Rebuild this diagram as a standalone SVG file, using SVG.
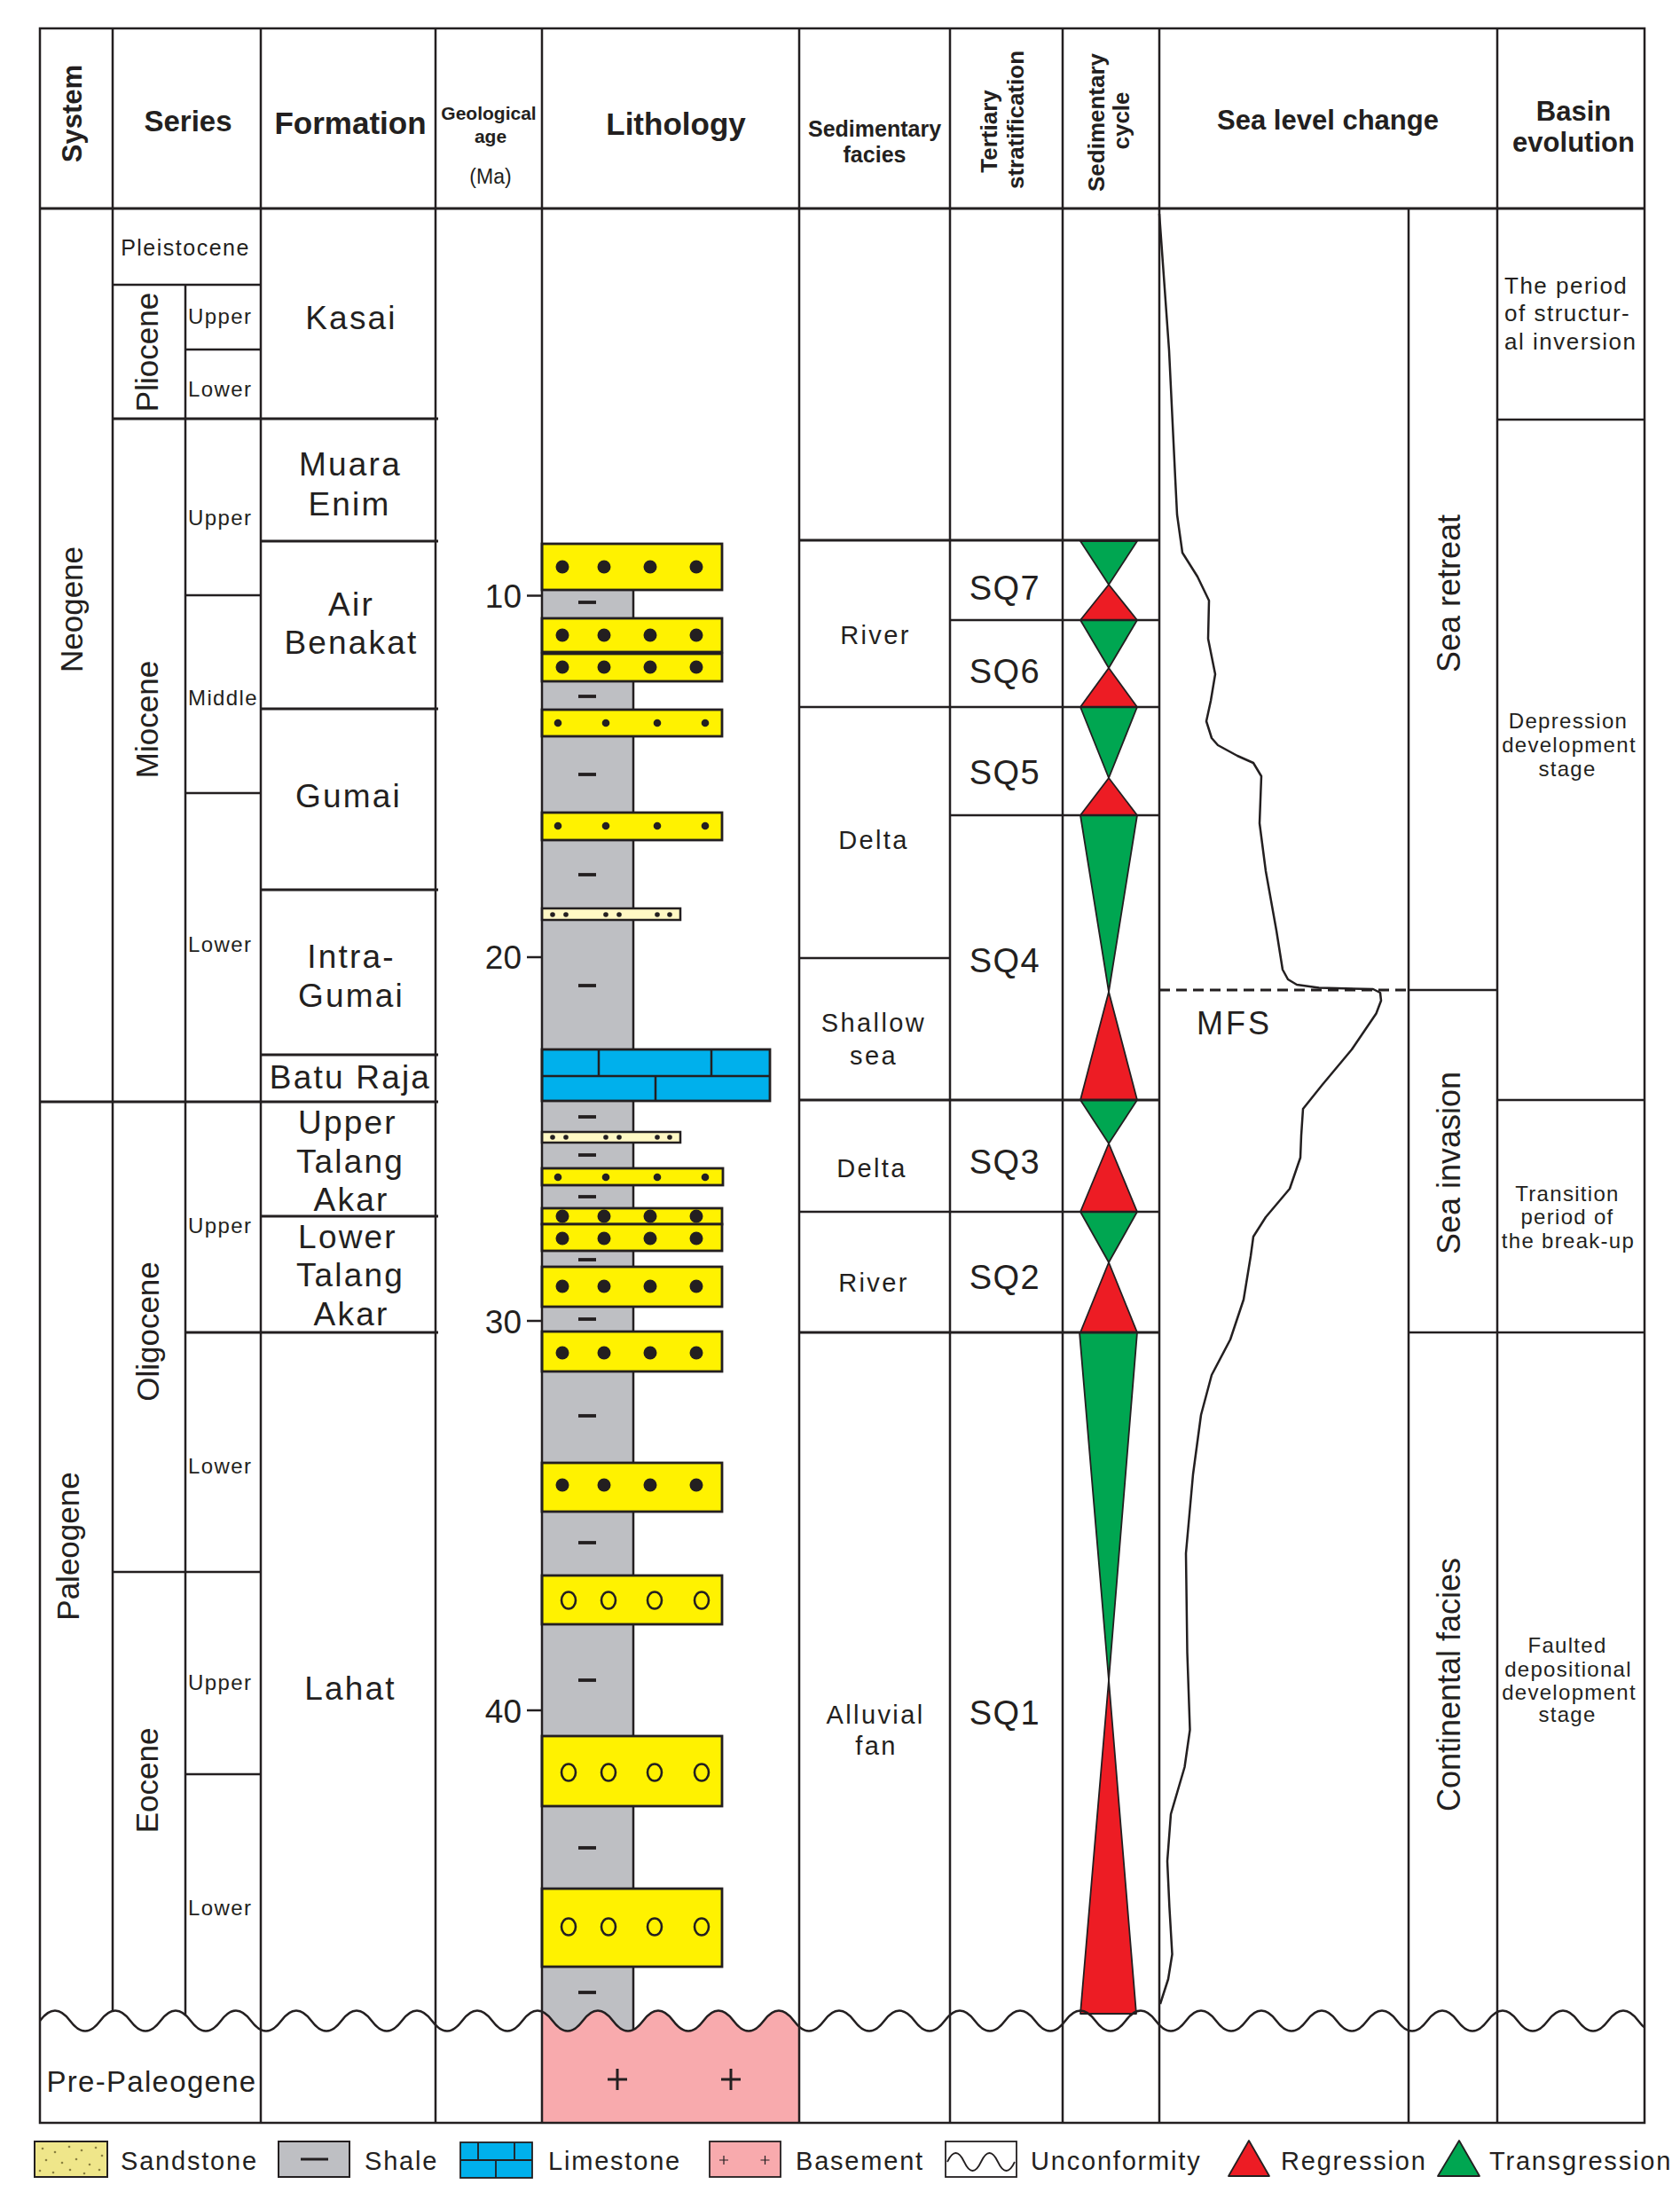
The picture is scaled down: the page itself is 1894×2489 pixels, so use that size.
<svg xmlns="http://www.w3.org/2000/svg" xmlns:xlink="http://www.w3.org/1999/xlink" width="1894" height="2489" viewBox="0 0 1894 2489">
<style>
.ln{stroke:#231f20;stroke-width:2.5;fill:none}
.tk{stroke-width:3.2}
.t{font-family:"Liberation Sans",Arial,Helvetica,sans-serif;fill:#231f20}
.b{font-weight:bold}
.m{text-anchor:middle}
.e{text-anchor:end}
.fm{font-size:37px;letter-spacing:2.2px}
.ss{font-size:24px;letter-spacing:1.4px}
.rs{font-size:35px}
.fa{font-size:29px;letter-spacing:2.4px}
.sq{font-size:38px;letter-spacing:1.5px}
.bv{font-size:24px;letter-spacing:1.3px}
.lg{font-size:29px;letter-spacing:1.8px}
.sand{fill:#fff200;stroke:#231f20;stroke-width:2.8}
.pale{fill:#fff8c4;stroke:#231f20;stroke-width:2.5}
.dk{fill:#231f20}
.oc{fill:none;stroke:#231f20;stroke-width:2.6}
.dash{stroke:#231f20;stroke-width:3.8}
.gr{fill:#00a651;stroke:#231f20;stroke-width:1.8;stroke-linejoin:round}
.rd{fill:#ed1c24;stroke:#231f20;stroke-width:1.8;stroke-linejoin:round}
</style>
<defs>
<g id="bigdots" class="dk"><circle cx="634" cy="0" r="7.5"/><circle cx="681" cy="0" r="7.5"/><circle cx="733" cy="0" r="7.5"/><circle cx="785" cy="0" r="7.5"/></g>
<g id="smalldots" class="dk"><circle cx="629" cy="0" r="4.3"/><circle cx="683" cy="0" r="4.3"/><circle cx="741" cy="0" r="4.3"/><circle cx="795" cy="0" r="4.3"/></g>
<g id="opencirc" class="oc"><ellipse cx="641" cy="0" rx="8" ry="9.5"/><ellipse cx="686" cy="0" rx="8" ry="9.5"/><ellipse cx="738" cy="0" rx="8" ry="9.5"/><ellipse cx="791" cy="0" rx="8" ry="9.5"/></g>
<g id="paledots" class="dk"><circle cx="623" cy="0" r="2.8"/><circle cx="638" cy="0" r="2.8"/><circle cx="683" cy="0" r="2.8"/><circle cx="698" cy="0" r="2.8"/><circle cx="741" cy="0" r="2.8"/><circle cx="755" cy="0" r="2.8"/></g>
<path id="wave" d="M45,2278 q17,-23 34,0 t34,0 34,0 34,0 34,0 34,0 34,0 34,0 34,0 34,0 34,0 34,0 34,0 34,0 34,0 34,0 34,0 34,0 34,0 34,0 34,0 34,0 34,0 34,0 34,0 34,0 34,0 34,0 34,0 34,0 34,0 34,0 34,0 34,0 34,0 34,0 34,0 34,0 34,0 34,0 34,0 34,0 34,0 34,0 34,0 34,0 34,0 34,0 34,0 34,0 34,0 34,0 34,0 34,0"/>
<clipPath id="tableclip"><rect x="45" y="2200" width="1809" height="200"/></clipPath>
<clipPath id="below"><path d="M45,2278 q17,-23 34,0 t34,0 34,0 34,0 34,0 34,0 34,0 34,0 34,0 34,0 34,0 34,0 34,0 34,0 34,0 34,0 34,0 34,0 34,0 34,0 34,0 34,0 34,0 34,0 34,0 34,0 34,0 34,0 34,0 34,0 34,0 34,0 34,0 34,0 34,0 34,0 34,0 34,0 34,0 34,0 34,0 34,0 34,0 34,0 34,0 34,0 34,0 34,0 34,0 34,0 34,0 34,0 34,0 34,0 L1881,2400 L45,2400 Z"/></clipPath>
</defs>
<rect width="1894" height="2489" fill="#ffffff"/>

<g id="lithology">
<rect x="611" y="612" width="103" height="1685" fill="#bebfc3"/>
<line class="ln" x1="714" y1="612" x2="714" y2="2292"/>
<g class="dash">
<line x1="652" y1="679" x2="672" y2="679"/><line x1="652" y1="785" x2="672" y2="785"/><line x1="652" y1="873" x2="672" y2="873"/><line x1="652" y1="986" x2="672" y2="986"/><line x1="652" y1="1111" x2="672" y2="1111"/><line x1="652" y1="1259" x2="672" y2="1259"/><line x1="652" y1="1302" x2="672" y2="1302"/><line x1="652" y1="1349" x2="672" y2="1349"/><line x1="652" y1="1420" x2="672" y2="1420"/><line x1="652" y1="1487" x2="672" y2="1487"/><line x1="652" y1="1596" x2="672" y2="1596"/><line x1="652" y1="1739" x2="672" y2="1739"/><line x1="652" y1="1894" x2="672" y2="1894"/><line x1="652" y1="2083" x2="672" y2="2083"/><line x1="652" y1="2246" x2="672" y2="2246"/>
</g>
<rect class="sand" x="611" y="613" width="203" height="52"/><use xlink:href="#bigdots" y="639"/>
<rect class="sand" x="611" y="697" width="203" height="38"/><use xlink:href="#bigdots" y="716"/>
<rect class="sand" x="611" y="737" width="203" height="31"/><use xlink:href="#bigdots" y="752"/>
<rect class="sand" x="611" y="800" width="203" height="30"/><use xlink:href="#smalldots" y="815"/>
<rect class="sand" x="611" y="916" width="203" height="31"/><use xlink:href="#smalldots" y="931"/>
<rect class="pale" x="611" y="1024" width="156" height="13"/><use xlink:href="#paledots" y="1031"/>
<rect x="611" y="1183" width="257" height="58" fill="#00b0ec" stroke="#231f20" stroke-width="2.8"/>
<path class="ln" d="M611,1213 H868 M675,1183 V1213 M802,1183 V1213 M739,1213 V1241"/>
<rect class="pale" x="611" y="1276" width="156" height="12"/><use xlink:href="#paledots" y="1282"/>
<rect class="sand" x="611" y="1317" width="204" height="19"/><use xlink:href="#smalldots" y="1327"/>
<rect class="sand" x="611" y="1362" width="203" height="18"/><use xlink:href="#bigdots" y="1371"/>
<rect class="sand" x="611" y="1380" width="203" height="30"/><use xlink:href="#bigdots" y="1396"/>
<rect class="sand" x="611" y="1428" width="203" height="45"/><use xlink:href="#bigdots" y="1450"/>
<rect class="sand" x="611" y="1501" width="203" height="45"/><use xlink:href="#bigdots" y="1525"/>
<rect class="sand" x="611" y="1649" width="203" height="55"/><use xlink:href="#bigdots" y="1674"/>
<rect class="sand" x="611" y="1776" width="203" height="55"/><use xlink:href="#opencirc" y="1804"/>
<rect class="sand" x="611" y="1957" width="203" height="79"/><use xlink:href="#opencirc" y="1998"/>
<rect class="sand" x="611" y="2129" width="203" height="88"/><use xlink:href="#opencirc" y="2172"/>
<g clip-path="url(#below)">
<rect x="611" y="2240" width="290" height="153" fill="#f8aaad"/>
</g>
<path d="M685,2344 h22 M696,2332 v24 M813,2344 h22 M824,2332 v24" stroke="#231f20" stroke-width="3" fill="none"/>
</g>

<g id="cycles">
<polygon class="gr" points="1218,610 1282,610 1250,659"/><polygon class="rd" points="1250,659 1218,699 1282,699"/>
<polygon class="gr" points="1218,699 1282,699 1250,753"/><polygon class="rd" points="1250,753 1218,797 1282,797"/>
<polygon class="gr" points="1218,797 1282,797 1250,877"/><polygon class="rd" points="1250,877 1218,919 1282,919"/>
<polygon class="gr" points="1218,919 1282,919 1250,1118"/><polygon class="rd" points="1250,1118 1218,1240 1282,1240"/>
<polygon class="gr" points="1218,1240 1282,1240 1250,1289"/><polygon class="rd" points="1250,1289 1218,1366 1282,1366"/>
<polygon class="gr" points="1218,1366 1282,1366 1250,1423"/><polygon class="rd" points="1250,1423 1218,1502 1282,1502"/>
<polygon class="gr" points="1217,1502 1282,1502 1250,1894"/><polygon class="rd" points="1250,1894 1218,2270 1281,2270"/>
</g>

<g id="connectors">
<rect class="ln" x="45" y="32" width="1809" height="2361" stroke-width="3.6"/>
<line class="ln tk" x1="45" y1="235" x2="1854" y2="235"/>
<path class="ln" d="M127,32 V2267 M209,321 V2272 M294,32 V2393 M491,32 V2393 M611,32 V2393 M901,32 V2393 M1071,32 V2393 M1198,32 V2393 M1307,32 V2393 M1588,235 V2393 M1688,32 V2393"/>
<path class="ln" d="M127,321 H294 M209,394 H294 M209,671 H294 M209,894 H294 M127,1772 H294 M209,2000 H294 M1071,699 H1307 M1071,919 H1307 M901,1080 H1071 M901,797 H1307 M901,1366 H1307 M1588,1116 H1688 M1688,473 H1854 M1688,1240 H1854 M1588,1502 H1854"/>
<path class="ln tk" d="M127,472 H494 M294,610 H494 M294,799 H494 M294,1003 H494 M294,1189 H494 M45,1242 H494 M294,1371 H494 M209,1502 H494 M901,609 H1307 M901,1240 H1307 M901,1502 H1307"/>
<line x1="1307" y1="1116" x2="1588" y2="1116" stroke="#231f20" stroke-width="3" stroke-dasharray="12,7"/>
<path class="ln" d="M594,671.5 H611 M594,1079 H611 M594,1489 H611 M594,1928 H611"/>
<path class="ln" stroke-width="2.2" stroke-linejoin="round" d="M1307,241 L1318,395 L1325,540 L1327,580 L1333,623 L1350,650 L1363,677 L1362,720 L1370,760 L1365,790 L1360,813 L1366,832 L1373,840 L1395,852 L1413,860 L1422,875 L1420,928 L1427,982 L1439,1049 L1446,1093 L1452,1104 L1462,1110 L1487,1113.5 L1548,1115 L1556,1119 L1557,1128 L1551.5,1142.5 L1524,1183 L1490.6,1223 L1469,1250 L1467,1280 L1466,1305 L1454,1340 L1427,1372 L1413,1394 L1410,1416 L1402,1465 L1387,1510 L1366,1550 L1354,1595 L1345,1662 L1337,1751 L1338.5,1863 L1341.5,1950 L1335.5,1992 L1320,2045 L1316,2098 L1318.4,2150 L1321.5,2203 L1317,2231 L1308,2259"/>
<use xlink:href="#wave" class="ln" stroke-width="3.2" clip-path="url(#tableclip)"/>
</g>

<g id="header">
<text class="t b m" font-size="31" transform="translate(92,128) rotate(-90)">System</text>
<text class="t b m" x="212" y="148" font-size="33">Series</text>
<text class="t b m" x="395" y="151" font-size="35">Formation</text>
<text class="t b m" x="551" y="135" font-size="21">Geological</text>
<text class="t b m" x="553" y="161" font-size="21">age</text>
<text class="t m" x="553" y="207" font-size="23">(Ma)</text>
<text class="t b m" x="762" y="152" font-size="35">Lithology</text>
<text class="t b m" x="986" y="154" font-size="25">Sedimentary</text>
<text class="t b m" x="986" y="183" font-size="25">facies</text>
<text class="t b m" font-size="26" transform="translate(1124,148) rotate(-90)">Tertiary</text>
<text class="t b m" font-size="26" transform="translate(1154,135) rotate(-90)">stratification</text>
<text class="t b m" font-size="26" transform="translate(1245,138) rotate(-90)">Sedimentary</text>
<text class="t b m" font-size="26" transform="translate(1273,136) rotate(-90)">cycle</text>
<text class="t b m" x="1497" y="146" font-size="31">Sea level change</text>
<text class="t b m" x="1774" y="136" font-size="31">Basin</text>
<text class="t b m" x="1774" y="171" font-size="31">evolution</text>
</g>

<g id="series">
<text class="t rs m" transform="translate(93,687) rotate(-90)">Neogene</text>
<text class="t rs m" transform="translate(89,1743) rotate(-90)">Paleogene</text>
<text class="t m" x="209" y="288" font-size="25" letter-spacing="1.5">Pleistocene</text>
<text class="t rs m" transform="translate(178,397) rotate(-90)">Pliocene</text>
<text class="t rs m" transform="translate(178,811) rotate(-90)">Miocene</text>
<text class="t rs m" transform="translate(179,1501) rotate(-90)">Oligocene</text>
<text class="t rs m" transform="translate(178,2007) rotate(-90)">Eocene</text>
<text class="t ss" x="212" y="365">Upper</text>
<text class="t ss" x="212" y="447">Lower</text>
<text class="t ss" x="212" y="592">Upper</text>
<text class="t ss" x="212" y="795">Middle</text>
<text class="t ss" x="212" y="1073">Lower</text>
<text class="t ss" x="212" y="1390">Upper</text>
<text class="t ss" x="212" y="1661">Lower</text>
<text class="t ss" x="212" y="1905">Upper</text>
<text class="t ss" x="212" y="2159">Lower</text>
</g>

<g id="formation">
<text class="t fm m" x="396" y="371">Kasai</text>
<text class="t fm m" x="395" y="536">Muara</text>
<text class="t fm m" x="394" y="581">Enim</text>
<text class="t fm m" x="396" y="694">Air</text>
<text class="t fm m" x="396" y="737">Benakat</text>
<text class="t fm m" x="393" y="910">Gumai</text>
<text class="t fm m" x="396" y="1091">Intra-</text>
<text class="t fm m" x="396" y="1135">Gumai</text>
<text class="t fm m" x="395" y="1227">Batu Raja</text>
<text class="t fm m" x="392" y="1278">Upper</text>
<text class="t fm m" x="395" y="1322">Talang</text>
<text class="t fm m" x="396" y="1365">Akar</text>
<text class="t fm m" x="392" y="1407">Lower</text>
<text class="t fm m" x="395" y="1450">Talang</text>
<text class="t fm m" x="396" y="1494">Akar</text>
<text class="t fm m" x="395" y="1916">Lahat</text>
<text class="t m" x="171" y="2358" font-size="33" letter-spacing="1.3">Pre-Paleogene</text>
</g>

<g id="age">
<text class="t e" x="588" y="685" font-size="37">10</text>
<text class="t e" x="588" y="1092" font-size="37">20</text>
<text class="t e" x="588" y="1503" font-size="37">30</text>
<text class="t e" x="588" y="1942" font-size="37">40</text>
</g>

<g id="facies">
<text class="t fa m" x="987" y="726">River</text>
<text class="t fa m" x="985" y="957">Delta</text>
<text class="t fa m" x="985" y="1163">Shallow</text>
<text class="t fa m" x="985" y="1200">sea</text>
<text class="t fa m" x="983" y="1327">Delta</text>
<text class="t fa m" x="985" y="1456">River</text>
<text class="t fa m" x="987" y="1943">Alluvial</text>
<text class="t fa m" x="988" y="1978">fan</text>
</g>

<g id="sequences">
<text class="t sq m" x="1133" y="676">SQ7</text>
<text class="t sq m" x="1133" y="770">SQ6</text>
<text class="t sq m" x="1133" y="884">SQ5</text>
<text class="t sq m" x="1133" y="1096">SQ4</text>
<text class="t sq m" x="1133" y="1323">SQ3</text>
<text class="t sq m" x="1133" y="1453">SQ2</text>
<text class="t sq m" x="1133" y="1944">SQ1</text>
</g>

<g id="sealevel">
<text class="t" x="1349" y="1166" font-size="36" letter-spacing="3">MFS</text>
<text class="t m" font-size="36" transform="translate(1646,669) rotate(-90)">Sea retreat</text>
<text class="t m" font-size="36" transform="translate(1646,1311) rotate(-90)">Sea invasion</text>
<text class="t m" font-size="36" transform="translate(1646,1899) rotate(-90)">Continental facies</text>
</g>

<g id="basin">
<text class="t" x="1696" y="331" font-size="26" letter-spacing="1.5">The period</text>
<text class="t" x="1696" y="362" font-size="26" letter-spacing="1.5">of structur-</text>
<text class="t" x="1696" y="394" font-size="26" letter-spacing="1.5">al inversion</text>
<text class="t bv m" x="1768" y="821">Depression</text>
<text class="t bv m" x="1769" y="848">development</text>
<text class="t bv m" x="1767" y="875">stage</text>
<text class="t bv m" x="1767" y="1354">Transition</text>
<text class="t bv m" x="1767" y="1380">period of</text>
<text class="t bv m" x="1768" y="1407">the break-up</text>
<text class="t bv m" x="1767" y="1863">Faulted</text>
<text class="t bv m" x="1768" y="1890">depositional</text>
<text class="t bv m" x="1769" y="1916">development</text>
<text class="t bv m" x="1767" y="1941">stage</text>
</g>

<g id="legend">
<rect x="39" y="2414" width="82" height="40" fill="#efe68a" stroke="#231f20" stroke-width="2"/>
<g fill="#8a8040">
<circle cx="48" cy="2422" r="1.3"/><circle cx="62" cy="2426" r="1.3"/><circle cx="78" cy="2420" r="1.3"/><circle cx="92" cy="2424" r="1.3"/><circle cx="108" cy="2421" r="1.3"/><circle cx="115" cy="2430" r="1.3"/><circle cx="52" cy="2435" r="1.3"/><circle cx="70" cy="2438" r="1.3"/><circle cx="86" cy="2434" r="1.3"/><circle cx="101" cy="2440" r="1.3"/><circle cx="45" cy="2447" r="1.3"/><circle cx="60" cy="2449" r="1.3"/><circle cx="79" cy="2446" r="1.3"/><circle cx="95" cy="2450" r="1.3"/><circle cx="112" cy="2446" r="1.3"/>
</g>
<text class="t lg" x="136" y="2446">Sandstone</text>
<rect x="314" y="2414" width="80" height="40" fill="#bebfc3" stroke="#231f20" stroke-width="2"/>
<line x1="339" y1="2434" x2="370" y2="2434" stroke="#231f20" stroke-width="3"/>
<text class="t lg" x="411" y="2446">Shale</text>
<rect x="519" y="2415" width="81" height="40" fill="#00b0ec" stroke="#231f20" stroke-width="1.8"/>
<path d="M519,2435 H600 M539,2415 V2435 M580,2415 V2435 M559,2435 V2455" stroke="#231f20" stroke-width="1.8" fill="none"/>
<text class="t lg" x="618" y="2446">Limestone</text>
<rect x="800" y="2414" width="80" height="40" fill="#f8aaad" stroke="#231f20" stroke-width="1.8"/>
<path d="M811,2435 h10 M816,2430 v10 M857.5,2435 h10 M862.5,2430 v10" stroke="#231f20" stroke-width="1.2" fill="none"/>
<text class="t lg" x="897" y="2446">Basement</text>
<rect x="1066" y="2414" width="80" height="40" fill="#ffffff" stroke="#231f20" stroke-width="1.8"/>
<path d="M1068,2437 q9.5,-20 19,0 t19,0 19,0 19,0" stroke="#231f20" stroke-width="1.8" fill="none"/>
<text class="t lg" x="1162" y="2446">Unconformity</text>
<polygon class="rd" points="1385,2453 1408,2413 1431,2453"/>
<text class="t lg" x="1444" y="2446">Regression</text>
<polygon class="gr" points="1621,2453 1645,2413 1668,2453"/>
<text class="t lg" x="1679" y="2446">Transgression</text>
</g>
</svg>
